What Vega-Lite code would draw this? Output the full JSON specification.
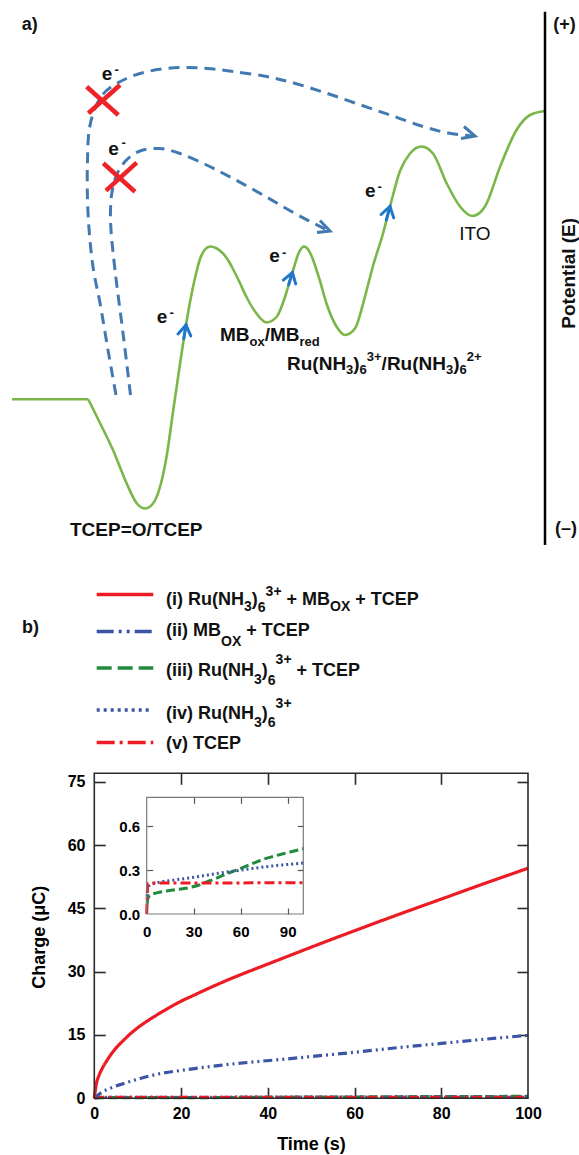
{
  "$schema": "https://vega.github.io/schema/vega-lite/v6.json",
  "width": 579,
  "height": 1155,
  "padding": 0,
  "autosize": {"type": "none"},
  "background": "white",
  "config": {
    "view": {"stroke": null},
    "font": "Liberation Sans",
    "axis": {"grid": false, "labelFont": "Liberation Sans", "titleFont": "Liberation Sans", "labelColor": "#000", "titleColor": "#000", "labelFlush": false, "labelOverlap": false, "labelBound": false}
  },
  "datasets": {
    "greenFlat": [{"x": 12, "y": 399.3}, {"x": 88.3, "y": 399.3}],
    "greenCurve": [
      {"x": 88.3, "y": 399.3}, {"x": 100, "y": 423}, {"x": 113, "y": 450}, {"x": 126.5, "y": 483}, {"x": 136.5, "y": 503},
      {"x": 145, "y": 508.5}, {"x": 153, "y": 503.5}, {"x": 160, "y": 487}, {"x": 166.5, "y": 457}, {"x": 173, "y": 412},
      {"x": 180, "y": 364}, {"x": 185.5, "y": 328}, {"x": 190, "y": 302}, {"x": 195, "y": 278}, {"x": 200, "y": 259},
      {"x": 205, "y": 249.5}, {"x": 210, "y": 246.5}, {"x": 216, "y": 248}, {"x": 222, "y": 252.5}, {"x": 228, "y": 260},
      {"x": 233.5, "y": 270}, {"x": 239, "y": 281}, {"x": 246.5, "y": 297}, {"x": 256.5, "y": 313.5}, {"x": 266.5, "y": 322.5},
      {"x": 276.5, "y": 317}, {"x": 285, "y": 297}, {"x": 289.5, "y": 282}, {"x": 293.5, "y": 269}, {"x": 298.5, "y": 253.5},
      {"x": 304, "y": 246.5}, {"x": 308.5, "y": 250}, {"x": 312, "y": 257}, {"x": 316.5, "y": 270}, {"x": 320, "y": 281},
      {"x": 326.5, "y": 303.5}, {"x": 336.5, "y": 326.5}, {"x": 345, "y": 335}, {"x": 355, "y": 328.5}, {"x": 363, "y": 304},
      {"x": 368, "y": 285}, {"x": 373, "y": 266}, {"x": 383, "y": 233.5}, {"x": 390, "y": 206.5}, {"x": 400, "y": 171},
      {"x": 410, "y": 153.5}, {"x": 421.5, "y": 146.5}, {"x": 433, "y": 153.5}, {"x": 446.5, "y": 183}, {"x": 460, "y": 206.5},
      {"x": 472.5, "y": 216}, {"x": 485, "y": 206.5}, {"x": 500, "y": 167}, {"x": 516.5, "y": 130}, {"x": 530, "y": 115},
      {"x": 545, "y": 111}
    ],
    "dashArcs": [
      {"id": "o", "i": 0, "x": 116, "y": 395}, {"id": "o", "i": 1, "x": 108, "y": 350}, {"id": "o", "i": 2, "x": 100, "y": 303},
      {"id": "o", "i": 3, "x": 93.5, "y": 270}, {"id": "o", "i": 4, "x": 89.5, "y": 235}, {"id": "o", "i": 5, "x": 87.5, "y": 200},
      {"id": "o", "i": 6, "x": 87.5, "y": 160}, {"id": "o", "i": 7, "x": 89.5, "y": 128}, {"id": "o", "i": 8, "x": 96, "y": 106},
      {"id": "o", "i": 9, "x": 106, "y": 91}, {"id": "o", "i": 10, "x": 126.5, "y": 78.5}, {"id": "o", "i": 11, "x": 150, "y": 71},
      {"id": "o", "i": 12, "x": 180, "y": 67.5}, {"id": "o", "i": 13, "x": 207, "y": 68.5}, {"id": "o", "i": 14, "x": 233, "y": 71.5},
      {"id": "o", "i": 15, "x": 266.5, "y": 76.5}, {"id": "o", "i": 16, "x": 290, "y": 82}, {"id": "o", "i": 17, "x": 323, "y": 92},
      {"id": "o", "i": 18, "x": 356.5, "y": 103.5}, {"id": "o", "i": 19, "x": 390, "y": 115}, {"id": "o", "i": 20, "x": 423, "y": 126.5},
      {"id": "o", "i": 21, "x": 448, "y": 133}, {"id": "o", "i": 22, "x": 473, "y": 136},
      {"id": "n", "i": 0, "x": 130.5, "y": 395}, {"id": "n", "i": 1, "x": 123.5, "y": 337}, {"id": "n", "i": 2, "x": 115, "y": 270},
      {"id": "n", "i": 3, "x": 111, "y": 230}, {"id": "n", "i": 4, "x": 110.5, "y": 210}, {"id": "n", "i": 5, "x": 112, "y": 192},
      {"id": "n", "i": 6, "x": 117, "y": 174}, {"id": "n", "i": 7, "x": 126.5, "y": 160}, {"id": "n", "i": 8, "x": 140, "y": 151},
      {"id": "n", "i": 9, "x": 160, "y": 148.5}, {"id": "n", "i": 10, "x": 180, "y": 153.5}, {"id": "n", "i": 11, "x": 206.5, "y": 165},
      {"id": "n", "i": 12, "x": 233, "y": 178.5}, {"id": "n", "i": 13, "x": 263, "y": 195}, {"id": "n", "i": 14, "x": 295, "y": 213.5},
      {"id": "n", "i": 15, "x": 328, "y": 230.5}
    ],
    "dashHeads": [
      {"id": "oa", "i": 0, "x": 464, "y": 126.5}, {"id": "oa", "i": 1, "x": 475, "y": 136}, {"id": "oa", "i": 2, "x": 461, "y": 138.5},
      {"id": "na", "i": 0, "x": 320, "y": 220.5}, {"id": "na", "i": 1, "x": 330, "y": 231}, {"id": "na", "i": 2, "x": 317, "y": 232.5}
    ],
    "blueHeads": [
      {"id": "a1", "i": 0, "x": 178, "y": 333.9}, {"id": "a1", "i": 1, "x": 186, "y": 325}, {"id": "a1", "i": 2, "x": 190.8, "y": 335.9},
      {"id": "a1s", "i": 0, "x": 186, "y": 325}, {"id": "a1s", "i": 1, "x": 183.8, "y": 338.8},
      {"id": "a2", "i": 0, "x": 283.3, "y": 280.1}, {"id": "a2", "i": 1, "x": 292.4, "y": 272.5}, {"id": "a2", "i": 2, "x": 295.7, "y": 283.9},
      {"id": "a2s", "i": 0, "x": 292.4, "y": 272.5}, {"id": "a2s", "i": 1, "x": 288.6, "y": 284.9},
      {"id": "a3", "i": 0, "x": 381.1, "y": 214.5}, {"id": "a3", "i": 1, "x": 390, "y": 206.5}, {"id": "a3", "i": 2, "x": 393.7, "y": 217.9},
      {"id": "a3s", "i": 0, "x": 390, "y": 206.5}, {"id": "a3s", "i": 1, "x": 386.3, "y": 220}
    ],
    "crosses": [
      {"id": "c1a", "i": 0, "x": 86.7, "y": 86.7}, {"id": "c1a", "i": 1, "x": 118.3, "y": 115},
      {"id": "c1b", "i": 0, "x": 88.3, "y": 113.3}, {"id": "c1b", "i": 1, "x": 120, "y": 85},
      {"id": "c2a", "i": 0, "x": 103.3, "y": 163.3}, {"id": "c2a", "i": 1, "x": 135, "y": 191.7},
      {"id": "c2b", "i": 0, "x": 106, "y": 190.7}, {"id": "c2b", "i": 1, "x": 136.7, "y": 162.7}
    ],
    "potentialAxis": [{"i": 0, "x": 545, "y": 11.7}, {"i": 1, "x": 545, "y": 545}],
    "legendLines": [
      {"s": "i", "x": 96.7, "y": 594.5}, {"s": "i", "x": 153.3, "y": 594.5},
      {"s": "ii", "x": 96.7, "y": 631.5}, {"s": "ii", "x": 153.3, "y": 631.5},
      {"s": "iii", "x": 96.7, "y": 668}, {"s": "iii", "x": 153.3, "y": 668},
      {"s": "iv", "x": 96.7, "y": 710}, {"s": "iv", "x": 151.7, "y": 710},
      {"s": "v", "x": 96.7, "y": 742.5}, {"s": "v", "x": 153.3, "y": 742.5}
    ],
    "diagLabels": [
      {"x": 70, "y": 530, "text": "TCEP=O/TCEP"},
      {"x": 220, "y": 335, "text": "MB"}, {"x": 264.7, "y": 335, "text": "/MB"},
      {"x": 287, "y": 363.5, "text": "Ru(NH"}, {"x": 353.3, "y": 363.5, "text": ")"},
      {"x": 381.6, "y": 363.5, "text": "/Ru(NH"}, {"x": 453.2, "y": 363.5, "text": ")"}
    ],
    "diagScripts": [
      {"x": 249.5, "y": 342, "text": "ox"}, {"x": 299.5, "y": 342, "text": "red"},
      {"x": 346.1, "y": 370.3, "text": "3"}, {"x": 359.6, "y": 370.3, "text": "6"}, {"x": 366.8, "y": 356.8, "text": "3+"},
      {"x": 446, "y": 370.3, "text": "3"}, {"x": 459.5, "y": 370.3, "text": "6"}, {"x": 466.7, "y": 356.8, "text": "2+"},
      {"x": 114.5, "y": 69.5, "text": "-"}, {"x": 121.5, "y": 143, "text": "-"}, {"x": 169.5, "y": 312.5, "text": "-"},
      {"x": 282, "y": 252.5, "text": "-"}, {"x": 377.5, "y": 187, "text": "-"}
    ],
    "electrons": [
      {"x": 101.7, "y": 80, "text": "e"}, {"x": 108.3, "y": 155, "text": "e"}, {"x": 156.7, "y": 322.7, "text": "e"},
      {"x": 269.3, "y": 261.7, "text": "e"}, {"x": 365, "y": 196.7, "text": "e"}
    ],
    "itoLabel": [{"x": 459.3, "y": 233.5, "text": "ITO"}],
    "potentialLabel": [{"x": 568.5, "y": 273.3, "text": "Potential (E)"}],
    "headers": [
      {"x": 21.7, "y": 25, "text": "a)"}, {"x": 22, "y": 628.3, "text": "b)"},
      {"x": 553.3, "y": 25.3, "text": "(+)"}, {"x": 555, "y": 529.3, "text": "(–)"},
      {"x": 166, "y": 599.5, "text": "(i) Ru(NH"}, {"x": 251.8, "y": 599.5, "text": ")"}, {"x": 286.6, "y": 599.5, "text": "+ MB"}, {"x": 355.3, "y": 599.5, "text": "+ TCEP"},
      {"x": 166, "y": 631.2, "text": "(ii) MB"}, {"x": 246.2, "y": 631.2, "text": "+ TCEP"},
      {"x": 166, "y": 671.2, "text": "(iii) Ru(NH"}, {"x": 261.8, "y": 671.2, "text": ")"}, {"x": 296.6, "y": 671.2, "text": "+ TCEP"},
      {"x": 166, "y": 714, "text": "(iv) Ru(NH"}, {"x": 261.8, "y": 714, "text": ")"},
      {"x": 166, "y": 743.5, "text": "(v) TCEP"}
    ],
    "legendScripts": [
      {"x": 244, "y": 606.8, "text": "3"}, {"x": 257.8, "y": 607.5, "text": "6"}, {"x": 265.6, "y": 591.8, "text": "3+"}, {"x": 330, "y": 607.2, "text": "OX"},
      {"x": 221, "y": 641.5, "text": "OX"},
      {"x": 254, "y": 680.2, "text": "3"}, {"x": 267.8, "y": 680.8, "text": "6"}, {"x": 275.6, "y": 660, "text": "3+"},
      {"x": 254, "y": 722.7, "text": "3"}, {"x": 267.8, "y": 723.3, "text": "6"}, {"x": 275.6, "y": 703.5, "text": "3+"}
    ],
    "charge": [
      {"s": "iii", "t": 0.3, "q": 0.07}, {"s": "iii", "t": 0.6, "q": 0.1}, {"s": "iii", "t": 2.1, "q": 0.13}, {"s": "iii", "t": 6.4, "q": 0.145},
      {"s": "iii", "t": 17, "q": 0.164}, {"s": "iii", "t": 27.7, "q": 0.182}, {"s": "iii", "t": 33, "q": 0.197}, {"s": "iii", "t": 38.3, "q": 0.22},
      {"s": "iii", "t": 44, "q": 0.243}, {"s": "iii", "t": 49, "q": 0.266}, {"s": "iii", "t": 54, "q": 0.288}, {"s": "iii", "t": 59.6, "q": 0.311},
      {"s": "iii", "t": 65, "q": 0.335}, {"s": "iii", "t": 70.2, "q": 0.357}, {"s": "iii", "t": 75, "q": 0.377}, {"s": "iii", "t": 80.9, "q": 0.395},
      {"s": "iii", "t": 86, "q": 0.41}, {"s": "iii", "t": 91.5, "q": 0.425}, {"s": "iii", "t": 100, "q": 0.448},
      {"s": "iv", "t": 0.2, "q": 0.12}, {"s": "iv", "t": 0.4, "q": 0.15}, {"s": "iv", "t": 1, "q": 0.18}, {"s": "iv", "t": 2.1, "q": 0.198},
      {"s": "iv", "t": 6.4, "q": 0.214}, {"s": "iv", "t": 17, "q": 0.232}, {"s": "iv", "t": 27.7, "q": 0.248}, {"s": "iv", "t": 38.3, "q": 0.266},
      {"s": "iv", "t": 49, "q": 0.284}, {"s": "iv", "t": 59.6, "q": 0.3}, {"s": "iv", "t": 70.2, "q": 0.316}, {"s": "iv", "t": 80.9, "q": 0.33},
      {"s": "iv", "t": 91.5, "q": 0.341}, {"s": "iv", "t": 100, "q": 0.35},
      {"s": "v", "t": 0, "q": 0}, {"s": "v", "t": 0.3, "q": 0.1}, {"s": "v", "t": 0.6, "q": 0.2}, {"s": "v", "t": 1, "q": 0.21},
      {"s": "v", "t": 5, "q": 0.212}, {"s": "v", "t": 20, "q": 0.213}, {"s": "v", "t": 50, "q": 0.213}, {"s": "v", "t": 80, "q": 0.214},
      {"s": "v", "t": 100, "q": 0.215},
      {"s": "ii", "t": 0, "q": 0}, {"s": "ii", "t": 1.4, "q": 1.2}, {"s": "ii", "t": 3.7, "q": 2.4}, {"s": "ii", "t": 6.8, "q": 3.5},
      {"s": "ii", "t": 10.6, "q": 4.7}, {"s": "ii", "t": 14.5, "q": 5.7}, {"s": "ii", "t": 22.2, "q": 6.9}, {"s": "ii", "t": 29.8, "q": 7.9},
      {"s": "ii", "t": 37.5, "q": 8.7}, {"s": "ii", "t": 45.2, "q": 9.4}, {"s": "ii", "t": 50, "q": 9.9}, {"s": "ii", "t": 60, "q": 10.9},
      {"s": "ii", "t": 70, "q": 12}, {"s": "ii", "t": 80, "q": 13}, {"s": "ii", "t": 90, "q": 14}, {"s": "ii", "t": 100, "q": 14.9},
      {"s": "i", "t": 0, "q": 0}, {"s": "i", "t": 0.5, "q": 3.6}, {"s": "i", "t": 1, "q": 5.2}, {"s": "i", "t": 2, "q": 7.4},
      {"s": "i", "t": 3, "q": 9.1}, {"s": "i", "t": 4, "q": 10.6}, {"s": "i", "t": 5, "q": 11.9}, {"s": "i", "t": 6, "q": 13},
      {"s": "i", "t": 7, "q": 14}, {"s": "i", "t": 8, "q": 15}, {"s": "i", "t": 10, "q": 16.7}, {"s": "i", "t": 12.5, "q": 18.5},
      {"s": "i", "t": 15, "q": 20.1}, {"s": "i", "t": 17.5, "q": 21.6}, {"s": "i", "t": 20, "q": 23}, {"s": "i", "t": 22.5, "q": 24.2},
      {"s": "i", "t": 25, "q": 25.4}, {"s": "i", "t": 30, "q": 27.7}, {"s": "i", "t": 35, "q": 29.8}, {"s": "i", "t": 40, "q": 31.8},
      {"s": "i", "t": 45, "q": 33.8}, {"s": "i", "t": 50, "q": 35.8}, {"s": "i", "t": 60, "q": 39.7}, {"s": "i", "t": 70, "q": 43.5},
      {"s": "i", "t": 80, "q": 47.2}, {"s": "i", "t": 90, "q": 50.9}, {"s": "i", "t": 100, "q": 54.5}
    ],
    "frameMain": [{"t0": 0, "t1": 100, "q0": 0, "q1": 77}],
    "frameInset": [{"t0": 0, "t1": 100, "q0": 0, "q1": 0.8}]
  },
  "layer": [
    {
      "encoding": {
        "x": {"field": "x", "type": "quantitative", "scale": {"domain": [0, 579], "range": [0, 579], "nice": false, "zero": false}, "axis": null},
        "y": {"field": "y", "type": "quantitative", "scale": {"domain": [0, 1155], "range": [0, 1155], "nice": false, "zero": false}, "axis": null}
      },
      "layer": [
        {"data": {"name": "dashArcs"}, "mark": {"type": "line", "color": "#4379b1", "strokeWidth": 3, "strokeDash": [11, 7], "interpolate": "catmull-rom"},
         "encoding": {"detail": {"field": "id"}, "order": {"field": "i", "type": "quantitative"}}},
        {"data": {"name": "dashHeads"}, "mark": {"type": "line", "color": "#4379b1", "strokeWidth": 3},
         "encoding": {"detail": {"field": "id"}, "order": {"field": "i", "type": "quantitative"}}},
        {"data": {"name": "greenFlat"}, "mark": {"type": "line", "color": "#7ab648", "strokeWidth": 2.6}},
        {"data": {"name": "greenCurve"}, "mark": {"type": "line", "color": "#7ab648", "strokeWidth": 2.6, "interpolate": "monotone"}},
        {"data": {"name": "blueHeads"}, "mark": {"type": "line", "color": "#1f77cc", "strokeWidth": 3, "strokeCap": "round"},
         "encoding": {"detail": {"field": "id"}, "order": {"field": "i", "type": "quantitative"}}},
        {"data": {"name": "crosses"}, "mark": {"type": "line", "color": "#ee2229", "strokeWidth": 4.5},
         "encoding": {"detail": {"field": "id"}, "order": {"field": "i", "type": "quantitative"}}},
        {"data": {"name": "potentialAxis"}, "mark": {"type": "line", "color": "#000", "strokeWidth": 2.5},
         "encoding": {"order": {"field": "i", "type": "quantitative"}}},
        {"data": {"name": "legendLines"}, "mark": {"type": "line", "strokeWidth": 3.5},
         "encoding": {
           "color": {"field": "s", "type": "nominal", "scale": {"domain": ["i", "ii", "iii", "iv", "v"], "range": ["#ed1c24", "#3b54a5", "#1f8b3b", "#3b54a5", "#ed1c24"]}, "legend": null},
           "strokeDash": {"field": "s", "type": "nominal", "scale": {"domain": ["i", "ii", "iii", "iv", "v"], "range": [[1, 0], [17, 5, 3, 5, 3, 5], [15, 6], [3, 4], [18, 5, 3, 5]]}, "legend": null}
         }},
        {"data": {"name": "diagLabels"}, "mark": {"type": "text", "align": "left", "baseline": "middle", "fontSize": 19, "fontWeight": "bold", "font": "Liberation Sans", "color": "#111"},
         "encoding": {"text": {"field": "text"}}},
        {"data": {"name": "diagScripts"}, "mark": {"type": "text", "align": "left", "baseline": "middle", "fontSize": 13, "fontWeight": "bold", "font": "Liberation Sans", "color": "#111"},
         "encoding": {"text": {"field": "text"}}},
        {"data": {"name": "electrons"}, "mark": {"type": "text", "align": "left", "baseline": "alphabetic", "fontSize": 19, "fontWeight": "bold", "font": "Liberation Sans", "color": "#111"},
         "encoding": {"text": {"field": "text"}}},
        {"data": {"name": "itoLabel"}, "mark": {"type": "text", "align": "left", "baseline": "middle", "fontSize": 19, "fontWeight": "normal", "font": "Liberation Sans", "color": "#111"},
         "encoding": {"text": {"field": "text"}}},
        {"data": {"name": "potentialLabel"}, "mark": {"type": "text", "align": "center", "baseline": "middle", "angle": 270, "fontSize": 19, "fontWeight": "bold", "font": "Liberation Sans", "color": "#111"},
         "encoding": {"text": {"field": "text"}}},
        {"data": {"name": "headers"}, "mark": {"type": "text", "align": "left", "baseline": "middle", "fontSize": 18, "fontWeight": "bold", "font": "Liberation Sans", "color": "#111"},
         "encoding": {"text": {"field": "text"}}},
        {"data": {"name": "legendScripts"}, "mark": {"type": "text", "align": "left", "baseline": "middle", "fontSize": 14, "fontWeight": "bold", "font": "Liberation Sans", "color": "#111"},
         "encoding": {"text": {"field": "text"}}}
      ]
    },
    {
      "layer": [
        {
          "data": {"name": "charge"},
          "mark": {"type": "line", "strokeWidth": 3.2, "interpolate": "monotone"},
          "encoding": {
            "x": {"field": "t", "type": "quantitative", "scale": {"domain": [0, 100], "range": [94.3, 528], "nice": false, "zero": false},
                  "axis": {"orient": "bottom", "offset": -56.7, "values": [0, 20, 40, 60, 80, 100], "ticks": false, "tickSize": 0, "domain": false,
                           "labelFontSize": 16, "labelFontWeight": "bold", "labelPadding": 7,
                           "title": "Time (s)", "titleFontSize": 18, "titleFontWeight": "bold", "titleX": 311, "titleY": 51.3, "titleBaseline": "alphabetic", "titleAlign": "center", "titleAngle": 0}},
            "y": {"field": "q", "type": "quantitative", "scale": {"domain": [0, 77], "range": [1098.3, 773.3], "nice": false, "zero": false},
                  "axis": {"orient": "left", "offset": -94.3, "values": [0, 15, 30, 45, 60, 75], "ticks": false, "tickSize": 0, "domain": false,
                           "labelFontSize": 16, "labelFontWeight": "bold", "labelPadding": 9.3,
                           "title": "Charge (μC)", "titleFontSize": 18, "titleFontWeight": "bold", "titleX": -50, "titleY": 936.7, "titleAngle": 270, "titleBaseline": "alphabetic", "titleAlign": "center"}},
            "color": {"field": "s", "type": "nominal", "scale": {"domain": ["i", "ii", "iii", "iv", "v"], "range": ["#ed1c24", "#3b54a5", "#1f8b3b", "#3b54a5", "#ed1c24"]}, "legend": null},
            "strokeDash": {"field": "s", "type": "nominal", "scale": {"domain": ["i", "ii", "iii", "iv", "v"], "range": [[1, 0], [9, 4, 2, 4, 2, 4], [9, 4], [2, 3], [10, 4, 3, 4]]}, "legend": null}
          }
        },
        {
          "data": {"name": "frameMain"},
          "mark": {"type": "rect", "fill": "transparent", "stroke": "#2b2b2b", "strokeWidth": 1.6},
          "encoding": {
            "x": {"field": "t0", "type": "quantitative", "axis": {"orient": "top", "offset": -1098.3, "values": [20, 40, 60, 80], "labels": false, "domain": false, "ticks": true, "tickSize": 11, "tickWidth": 1.6, "tickColor": "#2b2b2b", "title": null}},
            "x2": {"field": "t1"},
            "y": {"field": "q0", "type": "quantitative", "axis": {"orient": "right", "offset": -484.7, "values": [15, 30, 45, 60, 75], "labels": false, "domain": false, "ticks": true, "tickSize": 11, "tickWidth": 1.6, "tickColor": "#2b2b2b", "title": null}},
            "y2": {"field": "q1"}
          }
        },
        {
          "data": {"name": "frameMain"},
          "mark": {"type": "point", "opacity": 0},
          "encoding": {
            "x": {"field": "t0", "type": "quantitative", "axis": {"orient": "bottom", "offset": -381.7, "values": [20, 40, 60, 80], "labels": false, "domain": false, "ticks": true, "tickSize": 11, "tickWidth": 1.6, "tickColor": "#2b2b2b", "title": null}},
            "y": {"field": "q0", "type": "quantitative", "axis": {"orient": "left", "offset": -528, "values": [15, 30, 45, 60, 75], "labels": false, "domain": false, "ticks": true, "tickSize": 11, "tickWidth": 1.6, "tickColor": "#2b2b2b", "title": null}}
          }
        }
      ],
      "resolve": {"axis": {"x": "independent", "y": "independent"}}
    },
    {
      "layer": [
        {
          "data": {"name": "charge"},
          "transform": [{"filter": {"field": "s", "oneOf": ["iii", "iv", "v"]}}],
          "mark": {"type": "line", "strokeWidth": 3, "interpolate": "monotone"},
          "encoding": {
            "x": {"field": "t", "type": "quantitative", "scale": {"domain": [0, 100], "range": [146.7, 303.3], "nice": false, "zero": false},
                  "axis": {"orient": "bottom", "offset": -241, "values": [0, 30, 60, 90], "ticks": false, "tickSize": 0, "domain": false,
                           "labelFontSize": 15, "labelFontWeight": "bold", "labelPadding": 10, "title": null}},
            "y": {"field": "q", "type": "quantitative", "scale": {"domain": [0, 0.8], "range": [914, 797.3], "nice": false, "zero": false},
                  "axis": {"orient": "left", "offset": -146.7, "values": [0, 0.3, 0.6], "format": ".1f", "ticks": false, "tickSize": 0, "domain": false,
                           "labelFontSize": 15, "labelFontWeight": "bold", "labelPadding": 7, "title": null}},
            "color": {"field": "s", "type": "nominal", "scale": {"domain": ["iii", "iv", "v"], "range": ["#1f8b3b", "#3b54a5", "#ed1c24"]}, "legend": null},
            "strokeDash": {"field": "s", "type": "nominal", "scale": {"domain": ["iii", "iv", "v"], "range": [[9, 4], [2, 3], [10, 4, 3, 4]]}, "legend": null}
          }
        },
        {
          "data": {"name": "frameInset"},
          "mark": {"type": "rect", "fill": "transparent", "stroke": "#7a7a7a", "strokeWidth": 1.2},
          "encoding": {
            "x": {"field": "t0", "type": "quantitative", "axis": {"orient": "top", "offset": -914, "values": [30, 60, 90], "labels": false, "domain": false, "ticks": true, "tickSize": 6, "tickWidth": 1.2, "tickColor": "#555", "title": null}},
            "x2": {"field": "t1"},
            "y": {"field": "q0", "type": "quantitative", "axis": {"orient": "right", "offset": -432.3, "values": [0.3, 0.6], "labels": false, "domain": false, "ticks": true, "tickSize": 6, "tickWidth": 1.2, "tickColor": "#555", "title": null}},
            "y2": {"field": "q1"}
          }
        },
        {
          "data": {"name": "frameInset"},
          "mark": {"type": "point", "opacity": 0},
          "encoding": {
            "x": {"field": "t0", "type": "quantitative", "axis": {"orient": "bottom", "offset": -357.7, "values": [30, 60, 90], "labels": false, "domain": false, "ticks": true, "tickSize": 6, "tickWidth": 1.2, "tickColor": "#555", "title": null}},
            "y": {"field": "q0", "type": "quantitative", "axis": {"orient": "left", "offset": -303.3, "values": [0.3, 0.6], "labels": false, "domain": false, "ticks": true, "tickSize": 6, "tickWidth": 1.2, "tickColor": "#555", "title": null}}
          }
        }
      ],
      "resolve": {"axis": {"x": "independent", "y": "independent"}}
    }
  ],
  "resolve": {
    "scale": {"x": "independent", "y": "independent", "color": "independent", "strokeDash": "independent"},
    "axis": {"x": "independent", "y": "independent"}
  }
}
